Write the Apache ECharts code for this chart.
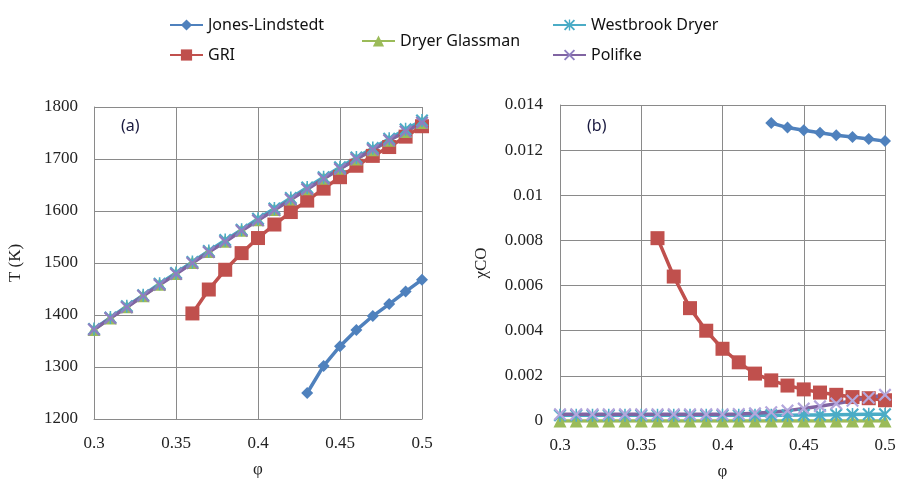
<!DOCTYPE html>
<html>
<head>
<meta charset="utf-8">
<script src="https://cdn.jsdelivr.net/npm/echarts@6/dist/echarts.min.js"></script>
<style>
  html, body { margin: 0; padding: 0; background: #fff; }
  #main { width: 899px; height: 479px; }
</style>
</head>
<body>
<div id="main"></div>
<script>
// equivalence ratio
var phi = [0.30, 0.31, 0.32, 0.33, 0.34, 0.35, 0.36, 0.37, 0.38, 0.39, 0.40,
           0.41, 0.42, 0.43, 0.44, 0.45, 0.46, 0.47, 0.48, 0.49, 0.50];

// (a) temperature, K
var tJones = [null, null, null, null, null, null, null, null, null, null, null,
              null, null, 1250, 1302, 1340, 1371, 1398, 1421, 1445, 1468];
var tGri = [null, null, null, null, null, null, 1403, 1449, 1487, 1519, 1548,
            1574, 1598, 1620, 1643, 1665, 1687, 1706, 1723, 1743, 1763];
var tDryer = [1372, 1394, 1416, 1437, 1459, 1480, 1501, 1522, 1542, 1563, 1583,
              1603, 1623, 1643, 1663, 1682, 1700, 1718, 1736, 1753, 1770];
var tWestbrook = [1373, 1395, 1417, 1438, 1460, 1481, 1502, 1523, 1544, 1564, 1585,
                  1605, 1625, 1645, 1665, 1684, 1703, 1721, 1739, 1757, 1774];
var tPolifke = [1372, 1394, 1415, 1437, 1458, 1479, 1500, 1521, 1541, 1562, 1582,
                1602, 1622, 1642, 1662, 1681, 1700, 1718, 1736, 1753, 1770];

// (b) CO mole fraction
var coJones = [null, null, null, null, null, null, null, null, null, null, null,
               null, null, 0.0132, 0.01300, 0.01288, 0.01277, 0.01266, 0.01258, 0.01249, 0.01240];
var coGri = [null, null, null, null, null, null, 0.0081, 0.0064, 0.0050, 0.0040, 0.0032,
             0.0026, 0.0021, 0.0018, 0.00157, 0.0014, 0.00126, 0.00116, 0.00106, 0.00101, 0.00092];
var coDryer = [0, 0, 0, 0, 0, 0, 0, 0, 0, 0, 0,
               0, 0, 0, 0, 0, 0, 0, 0, 0, 0];
var coWestbrook = [0.00025, 0.00025, 0.00025, 0.00025, 0.00025, 0.00025, 0.00025, 0.00025, 0.00025, 0.00025, 0.00025,
                   0.00025, 0.00025, 0.00026, 0.00026, 0.00027, 0.00027, 0.00028, 0.00029, 0.0003, 0.0003];
var coPolifke = [0.0003, 0.0003, 0.0003, 0.0003, 0.0003, 0.0003, 0.0003, 0.0003, 0.0003, 0.0003, 0.0003,
                 0.00031, 0.00034, 0.00039, 0.00046, 0.00055, 0.00065, 0.00077, 0.0009, 0.00103, 0.00116];

var names = ['Jones-Lindstedt', 'GRI', 'Dryer Glassman', 'Westbrook Dryer', 'Polifke'];
var colors = ['#4F81BD', '#C0504D', '#9BBB59', '#4BACC6', '#8064A2'];

var xMark = 'path://M0,1.2 L1.2,0 L5,3.8 L8.8,0 L10,1.2 L6.2,5 L10,8.8 L8.8,10 L5,6.2 L1.2,10 L0,8.8 L3.8,5 Z';
var starMark = 'path://M0,1.2 L1.2,0 L5,3.8 L8.8,0 L10,1.2 L6.2,5 L10,8.8 L8.8,10 L5,6.2 L1.2,10 L0,8.8 L3.8,5 Z M4.4,0 L5.6,0 L5.6,10 L4.4,10 Z';
var symbols = ['diamond', 'rect', 'triangle', starMark, xMark];
var sizes = [12, 14, 13, 13, 13];

function pairs(ys) {
    return phi.map(function (x, i) { return [x, ys[i]]; });
}

function makeSeries(name, ys, axis, markColor) {
    var k = names.indexOf(name);
    return {
        name: name,
        type: 'line',
        xAxisIndex: axis,
        yAxisIndex: axis,
        data: pairs(ys),
        symbol: symbols[k],
        symbolSize: sizes[k],
        showAllSymbol: true,
        connectNulls: false,
        lineStyle: { color: colors[k], width: 3.5 },
        itemStyle: { color: markColor || colors[k] },
        emphasis: { disabled: true },
        animation: false
    };
}

var axisLabelFont = { fontFamily: 'Liberation Serif', fontSize: 17, color: '#222' };
var gridLine = { show: true, lineStyle: { color: '#8a8a8a', width: 1 } };
var legendText = { fontFamily: 'Noto Sans', fontSize: 16, color: '#111' };

function xAxis(gi) {
    return {
        type: 'value', gridIndex: gi, min: 0.3, max: 0.5, interval: 0.05,
        name: 'φ', nameLocation: 'middle', nameGap: 42,
        nameTextStyle: { fontFamily: 'Liberation Serif', fontSize: 17, color: '#222' },
        axisLine: { show: true, lineStyle: { color: '#8a8a8a' } },
        axisTick: { show: false },
        axisLabel: Object.assign({ margin: 16 }, axisLabelFont),
        splitLine: gridLine
    };
}

var option = {
    backgroundColor: '#fff',
    color: colors,
    legend: [
        {
            data: ['Jones-Lindstedt', 'GRI'], orient: 'vertical',
            left: 164, top: 12, itemWidth: 33, itemHeight: 14, itemGap: 14,
            textStyle: legendText
        },
        {
            data: ['Dryer Glassman'], orient: 'vertical',
            left: 356, top: 28, itemWidth: 33, itemHeight: 14,
            textStyle: legendText
        },
        {
            data: ['Westbrook Dryer', 'Polifke'], orient: 'vertical',
            left: 547, top: 12, itemWidth: 33, itemHeight: 14, itemGap: 14,
            textStyle: legendText
        }
    ],
    grid: [
        { left: 94, right: 477, top: 107, bottom: 60, containLabel: false, outerBoundsMode: 'none' },
        { left: 560, right: 14, top: 105, bottom: 58, containLabel: false, outerBoundsMode: 'none' }
    ],
    xAxis: [xAxis(0), xAxis(1)],
    yAxis: [
        {
            type: 'value', gridIndex: 0, min: 1200, max: 1800, interval: 100,
            name: 'T (K)', nameLocation: 'middle', nameGap: 70, nameRotate: 90,
            nameTextStyle: { fontFamily: 'Liberation Serif', fontSize: 17, color: '#222' },
            axisLine: { show: true, lineStyle: { color: '#8a8a8a' } },
            axisTick: { show: false },
            axisLabel: Object.assign({ margin: 16, formatter: function (v) { return String(v); } }, axisLabelFont),
            splitLine: gridLine
        },
        {
            type: 'value', gridIndex: 1, min: 0, max: 0.014, interval: 0.002,
            name: 'χCO', nameLocation: 'middle', nameGap: 70, nameRotate: 90,
            nameTextStyle: { fontFamily: 'Liberation Serif', fontSize: 17, color: '#222' },
            axisLine: { show: true, lineStyle: { color: '#8a8a8a' } },
            axisTick: { show: false },
            axisLabel: Object.assign({ margin: 17 }, axisLabelFont),
            splitLine: gridLine
        }
    ],
    graphic: [
        { type: 'text', left: 121, top: 118, style: { text: '(a)', font: '16px "Noto Sans"', fill: '#1a1a40' } },
        { type: 'text', left: 587, top: 118, style: { text: '(b)', font: '16px "Noto Sans"', fill: '#1a1a40' } }
    ],
    series: [
        makeSeries('Jones-Lindstedt', tJones, 0),
        makeSeries('GRI', tGri, 0),
        makeSeries('Dryer Glassman', tDryer, 0),
        makeSeries('Westbrook Dryer', tWestbrook, 0),
        makeSeries('Polifke', tPolifke, 0, '#8f7fc0'),
        makeSeries('Jones-Lindstedt', coJones, 1),
        makeSeries('GRI', coGri, 1),
        makeSeries('Dryer Glassman', coDryer, 1),
        makeSeries('Westbrook Dryer', coWestbrook, 1),
        makeSeries('Polifke', coPolifke, 1, '#b3a6dc')
    ]
};

var myChart = echarts.init(document.getElementById('main'));
myChart.setOption(option);
</script>
</body>
</html>
